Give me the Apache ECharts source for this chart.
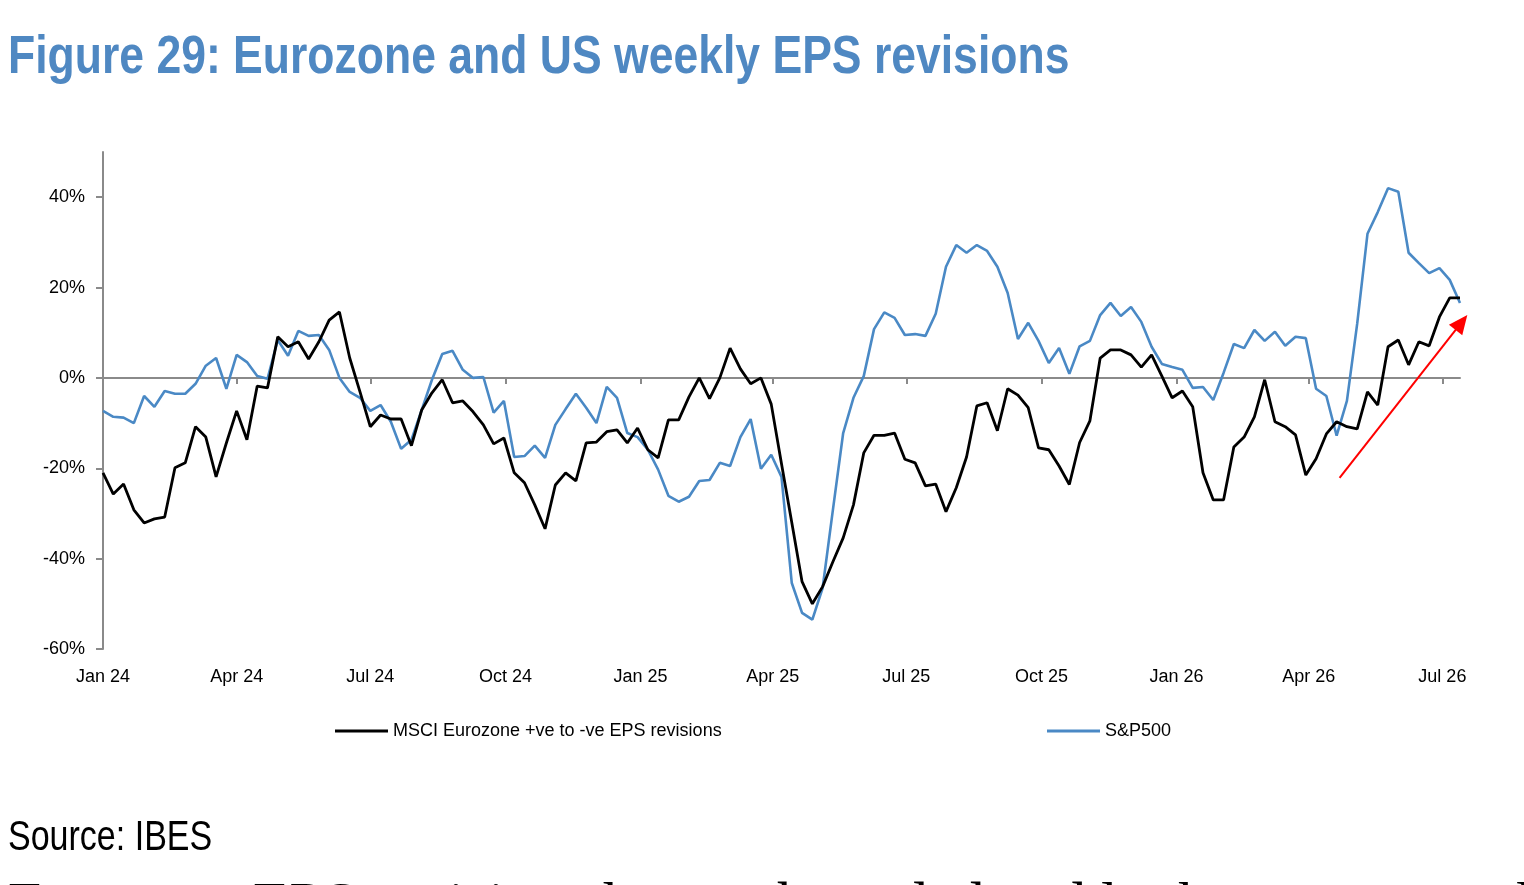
<!DOCTYPE html>
<html><head><meta charset="utf-8">
<script src="https://cdn.jsdelivr.net/npm/echarts@6/dist/echarts.min.js"></script>
<style>html,body{margin:0;padding:0;background:#fff;overflow:hidden}#c{width:1524px;height:885px}</style>
</head><body><div id="c"></div>
<script>
// ---- data ----
const START_DATE = '2024-01-01';   // first weekly observation
const END_DATE = '2026-07-13';     // end of x axis
const WEEK_COUNT = 133;
const seriesNames = ['MSCI Eurozone +ve to -ve EPS revisions', 'S&P500'];
const msciEurozone = [
  -21.0,-25.7,-23.5,-29.2,-32.1,-31.2,-30.8,-19.9,-18.8,-10.8,
  -13.1,-21.9,-14.4,-7.3,-13.7,-1.8,-2.2,9.1,6.9,8.0,
  4.2,8.0,12.8,14.6,4.4,-3.1,-10.8,-8.2,-9.1,-9.1,
  -15.0,-7.1,-3.3,-0.4,-5.5,-5.1,-7.5,-10.4,-14.6,-13.3,
  -21.0,-23.2,-28.1,-33.4,-23.7,-21.0,-22.8,-14.4,-14.2,-11.9,
  -11.5,-14.4,-11.1,-15.9,-17.7,-9.3,-9.3,-4.2,0.0,-4.6,
  0.0,6.6,2.0,-1.3,0.0,-5.8,-19.0,-32.0,-45.1,-50.0,
  -46.2,-40.7,-35.4,-28.1,-16.6,-12.7,-12.7,-12.2,-18.0,-18.8,
  -23.9,-23.5,-29.6,-24.3,-17.5,-6.2,-5.5,-11.7,-2.4,-3.8,
  -6.6,-15.5,-15.9,-19.5,-23.6,-14.3,-9.5,4.4,6.2,6.2,
  5.1,2.4,5.1,0.4,-4.4,-2.9,-6.4,-21.0,-27.0,-27.0,
  -15.3,-13.1,-8.6,-0.4,-9.7,-10.8,-12.6,-21.5,-17.9,-12.4,
  -9.7,-10.8,-11.3,-3.1,-6.0,6.9,8.4,2.9,8.0,7.1,
  13.5,17.7,17.7
];
const sp500 = [
  -7.3,-8.6,-8.8,-10.0,-4.0,-6.4,-2.9,-3.5,-3.5,-1.3,
  2.7,4.4,-2.4,5.1,3.5,0.4,-0.2,8.4,4.9,10.4,
  9.3,9.5,6.2,0.0,-3.1,-4.4,-7.3,-6.0,-9.7,-15.7,
  -13.7,-7.1,-0.4,5.3,6.0,1.8,0.0,0.2,-7.7,-5.1,
  -17.5,-17.3,-15.0,-17.7,-10.4,-6.9,-3.5,-6.6,-10.0,-2.0,
  -4.4,-12.2,-13.1,-15.9,-20.3,-26.1,-27.4,-26.3,-22.8,-22.6,
  -18.8,-19.5,-13.1,-9.1,-20.1,-17.0,-21.9,-45.4,-52.0,-53.5,
  -46.5,-29.2,-12.2,-4.4,0.4,10.8,14.5,13.3,9.5,9.7,
  9.3,14.2,24.6,29.4,27.7,29.4,28.1,24.6,18.8,8.6,
  12.2,8.2,3.3,6.6,0.9,7.0,8.2,13.9,16.6,13.7,
  15.7,12.4,6.9,3.1,2.4,1.8,-2.2,-2.0,-4.9,1.1,
  7.5,6.6,10.6,8.2,10.2,7.1,9.1,8.8,-2.4,-4.0,
  -12.8,-5.1,12.0,31.9,36.7,42.0,41.2,27.7,25.4,23.2,
  24.3,21.7,16.6
];
const xTickDates = ['2024-01-01','2024-04-01','2024-07-01','2024-10-01','2025-01-01','2025-04-01',
                    '2025-07-01','2025-10-01','2026-01-01','2026-04-01','2026-07-01'];
const xTickLabels = ['Jan 24','Apr 24','Jul 24','Oct 24','Jan 25','Apr 25','Jul 25','Oct 25','Jan 26','Apr 26','Jul 26'];
const yTicks = [-60,-40,-20,0,20,40];
const Y_MIN = -60, Y_MAX = 50;
const arrowStart = ['2026-04-22', -22.1];
const arrowEnd = ['2026-07-18', 13.9];
const titleText = 'Figure 29: Eurozone and US weekly EPS revisions';
const sourceText = 'Source: IBES';
const bodyText = 'Eurozone EPS revisions have rebounded and look set to overtake the US again';

// ---- helpers ----
function dayOf(s){ const p = s.split('-').map(Number); return Math.round((Date.UTC(p[0],p[1]-1,p[2]) - Date.UTC(2024,0,1))/86400000); }
const startDay = dayOf(START_DATE);
const weekDays = []; for (let i = 0; i < WEEK_COUNT; i++) weekDays.push(startDay + 7*i);
const tickDays = xTickDates.map(dayOf);
const labelOf = {}; tickDays.forEach((d,i)=>{ labelOf[d] = xTickLabels[i]; });

const SANS = "'Liberation Sans',Arial,sans-serif";
const BLUE = '#4a89c5';
const GREY = '#8a8a8a';

const chart = echarts.init(document.getElementById('c'), null, {renderer:'canvas'});
chart.setOption({
  backgroundColor:'#ffffff',
  animation:false,
  grid:{ left:103, right:64, top:152, bottom:236, containLabel:false },
  legend:[
    { data:[seriesNames[0]], left:330, top:717, icon:'rect', itemWidth:53, itemHeight:3, selectedMode:false,
      textStyle:{ fontFamily:SANS, fontSize:18, color:'#000' } },
    { data:[seriesNames[1]], left:1042, top:717, icon:'rect', itemWidth:53, itemHeight:3, selectedMode:false,
      textStyle:{ fontFamily:SANS, fontSize:18, color:'#000' } }
  ],
  xAxis:[
    { type:'value', min:startDay, max:dayOf(END_DATE), position:'bottom',
      axisLine:{ show:true, onZero:true, lineStyle:{ color:GREY, width:2 } },
      axisTick:{ show:true, length:6, customValues:tickDays, lineStyle:{ color:GREY, width:2 } },
      axisLabel:{ show:false }, splitLine:{ show:false } },
    { type:'value', min:startDay, max:dayOf(END_DATE), position:'bottom',
      axisLine:{ show:false, onZero:false }, axisTick:{ show:false }, splitLine:{ show:false },
      axisLabel:{ show:true, customValues:tickDays, margin:19, fontFamily:SANS, fontSize:18, color:'#000',
        formatter:(v)=> labelOf[v] || '' } }
  ],
  yAxis:{ type:'value', min:Y_MIN, max:Y_MAX, interval:20,
    axisLine:{ show:true, lineStyle:{ color:GREY, width:2 } },
    axisTick:{ show:true, length:7, customValues:yTicks, lineStyle:{ color:GREY, width:2 } },
    splitLine:{ show:false },
    axisLabel:{ customValues:yTicks, margin:18, fontFamily:SANS, fontSize:18, color:'#000', formatter:(v)=> v + '%' } },
  series:[
    { name:seriesNames[1], type:'line', xAxisIndex:0, data:weekDays.map((d,i)=>[d, sp500[i]]),
      showSymbol:false, symbol:'none', lineStyle:{ color:BLUE, width:2.6 }, itemStyle:{ color:BLUE }, z:2 },
    { name:seriesNames[0], type:'line', xAxisIndex:0, data:weekDays.map((d,i)=>[d, msciEurozone[i]]),
      showSymbol:false, symbol:'none', lineStyle:{ color:'#000', width:2.8 }, itemStyle:{ color:'#000' }, z:3 }
  ],
  graphic:{ elements:[
    { id:'title', type:'text', x:8, y:32, scaleX:0.84, style:{ text:titleText, font:"bold 53px " + SANS, fill:'#4f88c2', verticalAlign:'top' } },
    { id:'source', type:'text', x:8, y:817, scaleX:0.81, style:{ text:sourceText, font:"42px " + SANS, fill:'#000', verticalAlign:'top' } },
    { id:'body', type:'text', x:8, y:877, style:{ text:bodyText, font:"60px 'Liberation Serif','Times New Roman',serif", fill:'#000', verticalAlign:'top' } }
  ]}
});

// red annotation arrow, placed through the chart's own coordinate conversion
const p0 = chart.convertToPixel({xAxisIndex:0, yAxisIndex:0}, [dayOf(arrowStart[0]), arrowStart[1]]);
const p1 = chart.convertToPixel({xAxisIndex:0, yAxisIndex:0}, [dayOf(arrowEnd[0]), arrowEnd[1]]);
const dx = p1[0]-p0[0], dy = p1[1]-p0[1], len = Math.sqrt(dx*dx+dy*dy);
const ux = dx/len, uy = dy/len, HL = 19, HW = 8.5;
const bx = p1[0]-ux*HL, by = p1[1]-uy*HL;
chart.setOption({ graphic:{ elements:[
  { id:'arrowLine', type:'line', z:50, shape:{ x1:p0[0], y1:p0[1], x2:bx+ux*2, y2:by+uy*2 }, style:{ stroke:'#ff0000', lineWidth:2 } },
  { id:'arrowHead', type:'polygon', z:50, shape:{ points:[[p1[0],p1[1]],[bx-uy*HW, by+ux*HW],[bx+uy*HW, by-ux*HW]] }, style:{ fill:'#ff0000' } }
]}});
</script></body></html>
